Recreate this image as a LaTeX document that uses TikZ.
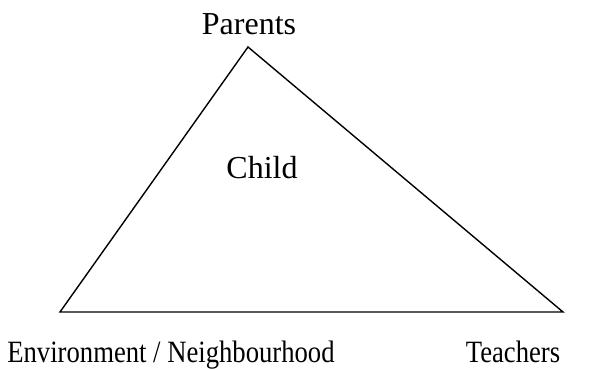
\documentclass[tikz,border=0pt]{standalone}
\usepackage{fontspec}
\setmainfont{Liberation Serif}
\newfontfamily\narrowserif[FakeStretch=0.86]{Liberation Serif}
\usetikzlibrary{positioning}

\begin{document}
\begin{tikzpicture} [x=1pt,y=1pt,line width=1.4pt,
    corner/.style={font=\narrowserif\fontsize{31}{34}\selectfont,anchor=base,inner sep=0pt},
    top/.style={font=\fontsize{32}{35}\selectfont,anchor=base,inner sep=0pt}]

  \useasboundingbox (0,0) rectangle (600,369);

  \coordinate (p) at (248,322);
  \coordinate (e) at (60,57);
  \coordinate (t) at (563,57);

  \node[top] (parents) at (249,334) {Parents};
  \node[top] (child) at (262,190) {Child};
  \node[corner] (env) at (171,6) {Environment / Neighbourhood};
  \node[corner] (teach) at (513,6) {Teachers};

  \draw (p) -- (e) -- (t) -- cycle;
\end{tikzpicture}
\end{document}
